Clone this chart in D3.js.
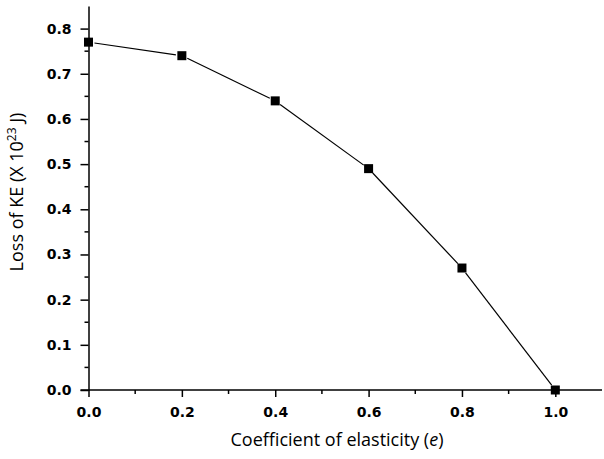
<!DOCTYPE html>
<html>
<head>
<meta charset="utf-8">
<script src="https://cdn.jsdelivr.net/npm/d3@7"></script>
<style>
body{margin:0;background:#fff;}
.tick text{font-family:"DejaVu Sans",sans-serif;font-weight:bold;font-size:14px;fill:#000;}
.ttl{font-family:"Open Sans",sans-serif;fill:#000;}
</style>
</head>
<body>
<div id="chart"></div>
<script>
// data
const elasticity = [0.0, 0.2, 0.4, 0.6, 0.8, 1.0];
const lossKE = [0.77, 0.74, 0.64, 0.49, 0.27, 0.0];
const xTicks = [0.0, 0.2, 0.4, 0.6, 0.8, 1.0];
const yTicks = [0.0, 0.1, 0.2, 0.3, 0.4, 0.5, 0.6, 0.7, 0.8];

const W = 604, H = 459;
const m = {left: 88.5, right: 2, top: 6, bottom: 69};

let svg = d3.select("#chart").append("svg").attr("width", W).attr("height", H);

let x = d3.scaleLinear().domain([0, 1.1]).range([m.left, W - m.right]);
let y = d3.scaleLinear().domain([0, 0.85]).range([H - m.bottom, m.top]);

// minor ticks
let xMinor = d3.range(0.1, 1.1, 0.2);
let yMinor = d3.range(0.05, 0.85, 0.1);

let gx = svg.append("g").attr("transform", "translate(0," + y(0) + ")")
    .call(d3.axisBottom(x).tickValues(xTicks).tickFormat(d3.format(".1f")).tickSize(7).tickSizeOuter(0).tickPadding(10));
gx.select(".domain").attr("d", "M" + (m.left - 8) + ",0H" + (W - m.right)).attr("stroke-width", 1.5);
gx.selectAll(".tick line").attr("stroke-width", 1.5);
gx.selectAll(".minor").data(xMinor).enter().append("line")
    .attr("x1", d => x(d)).attr("x2", d => x(d)).attr("y1", 0).attr("y2", 4)
    .attr("stroke", "#000").attr("stroke-width", 1.5);

let gy = svg.append("g").attr("transform", "translate(" + x(0) + ",0)")
    .call(d3.axisLeft(y).tickValues(yTicks).tickFormat(d3.format(".1f")).tickSize(8).tickSizeOuter(0).tickPadding(9));
gy.select(".domain").attr("stroke-width", 1.5);
gy.selectAll(".tick line").attr("stroke-width", 1.5);
gy.selectAll(".minor").data(yMinor).enter().append("line")
    .attr("y1", d => y(d)).attr("y2", d => y(d)).attr("x1", 0).attr("x2", -4)
    .attr("stroke", "#000").attr("stroke-width", 1.5);

let pts = elasticity.map((e, i) => [e, lossKE[i]]);

// line segments with little gaps at markers
const gap = 6;
for (let i = 0; i < pts.length - 1; i++) {
    let x1 = x(pts[i][0]), y1 = y(pts[i][1]), x2 = x(pts[i+1][0]), y2 = y(pts[i+1][1]);
    let len = Math.hypot(x2 - x1, y2 - y1), ux = (x2 - x1) / len, uy = (y2 - y1) / len;
    svg.append("line")
        .attr("x1", x1 + ux * gap).attr("y1", y1 + uy * gap)
        .attr("x2", x2 - ux * gap).attr("y2", y2 - uy * gap)
        .attr("stroke", "#000").attr("stroke-width", 1.2);
}

svg.selectAll("rect.pt").data(pts).enter().append("rect")
    .attr("class", "pt")
    .attr("x", d => x(d[0]) - 4.5).attr("y", d => y(d[1]) - 4.5)
    .attr("width", 9).attr("height", 9).attr("fill", "#000");

svg.append("text").attr("class", "ttl").attr("font-size", "18px")
    .attr("x", 337).attr("y", 446).attr("text-anchor", "middle")
    .html('Coefficient of elasticity (<tspan font-style="italic">e</tspan>)');

let yt = svg.append("text").attr("class", "ttl").attr("font-size", "18px").attr("text-anchor", "middle")
    .attr("transform", "translate(23,192) rotate(-90)");
yt.append("tspan").text("Loss of KE (X 10");
yt.append("tspan").attr("dy", -7).attr("font-size", "12px").text("23");
yt.append("tspan").attr("dy", 7).text(" J)");
</script>
</body>
</html>
